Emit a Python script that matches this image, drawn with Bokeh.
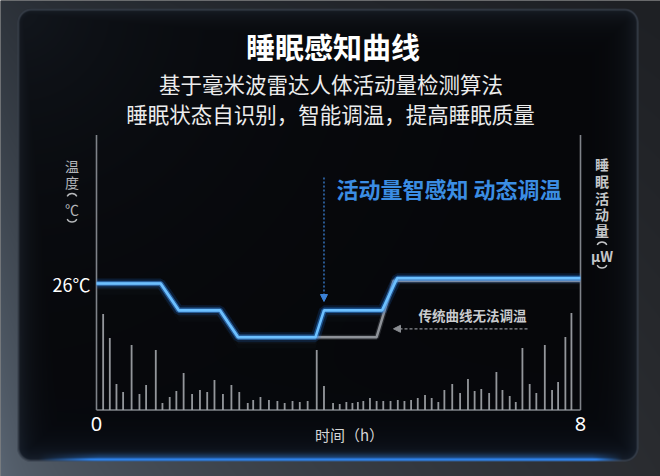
import numpy as np
from bokeh.plotting import figure
from bokeh.models import Range1d, Label, Arrow, NormalHead
from bokeh.embed import file_html
from bokeh.resources import INLINE

# sleep activity bars: time (h) and relative activity
bar_hours = [0.11, 0.22, 0.33, 0.44, 0.58, 0.71, 0.82, 0.98, 1.09, 1.21,
             1.32, 1.44, 1.58, 1.71, 1.83, 1.95, 2.09, 2.23, 2.36, 2.50,
             2.59, 2.71, 2.85, 2.99, 3.11, 3.24, 3.36, 3.49, 3.64, 3.76,
             3.91, 4.02, 4.13, 4.23, 4.32, 4.41, 4.52, 4.63, 4.74, 4.86,
             4.98, 5.09, 5.20, 5.31, 5.43, 5.54, 5.65, 5.75, 5.88, 6.01,
             6.14, 6.25, 6.36, 6.49, 6.61, 6.71, 6.83, 6.93, 7.04, 7.16,
             7.27, 7.41, 7.53, 7.63, 7.75, 7.85]
bar_activity = [96, 72, 26, 18, 65, 16, 25, 60, 7, 13,
                19, 37, 16, 20, 18, 30, 16, 25, 18, 7,
                10, 13, 10, 9, 7, 9, 8, 9, 60, 24,
                7, 6, 8, 7, 8, 9, 12, 9, 9, 9,
                10, 9, 10, 12, 15, 12, 8, 20, 26, 17,
                31, 19, 21, 17, 38, 20, 14, 8, 62, 26,
                17, 65, 20, 28, 73, 97]

# smart curve (follows activity)
smart_hours = [0, 1.06, 1.36, 2.04, 2.34, 3.62, 3.76, 4.72, 4.97, 8]
smart_temp = [26, 26, 25, 25, 24, 24, 25, 25, 26.2, 26.2]

# traditional curve
trad_hours = [0, 1.06, 1.36, 2.04, 2.34, 4.63, 4.91, 8]
trad_temp = [26, 26, 25, 25, 24, 24, 26.1, 26.1]

x_ticks = [0, 8]
x_tick_labels = ["0", "8"]
temp_tick = 26
temp_tick_label = "26℃"

CJK = "Noto Sans CJK SC"

# figure geometry (picture pixels -> data)
W, H = 660, 476
PX_H = 60.5     # px per hour
PX_T = 26.85    # px per degree
X_START = -96 / PX_H
X_END = X_START + W / PX_H
Y_END = 26 + 283 / PX_T
Y_START = Y_END - H / PX_T
ACT_START = -(H - 409.5)
ACT_END = ACT_START + H


def hx(X):
    return X_START + X / PX_H


def ty(Y):
    return Y_END - Y / PX_T


def background():
    yy, xx = np.mgrid[0:H, 0:W].astype(float)
    X = xx + 0.5
    Y = yy + 0.5
    fy = (Y / 476)[..., None]
    fx = np.sqrt(np.clip(X / 660, 0, 1))[..., None]
    lt, lb = np.array([46, 52, 60]), np.array([92, 104, 118])
    rt, rb = np.array([30, 32, 36]), np.array([42, 44, 48])
    left = lt + (lb - lt) * fy
    right = rt + (rb - rt) * fy
    outside = left + (right - left) * fx

    x0, x1, y0, y1, r = 17, 638, 8.3, 461, 14
    cx, cy = (x0 + x1) / 2, (y0 + y1) / 2
    dx = np.abs(X - cx) - ((x1 - x0) / 2 - r)
    dy = np.abs(Y - cy) - ((y1 - y0) / 2 - r)
    d = np.hypot(np.maximum(dx, 0), np.maximum(dy, 0)) + np.minimum(np.maximum(dx, dy), 0) - r

    base = np.array([6, 7, 10])
    edge = np.array([24, 30, 38])
    corner = np.exp(-np.hypot(X - 17, Y - 8) / 160)
    w = np.maximum(np.exp(d / 14), 0.7 * corner)[..., None]
    inner = base + (edge - base) * w
    inner = inner + np.array([0, 3, 8]) * np.exp((Y - 461) / 35)[..., None]
    border = np.exp(-((d + 0.8) / 0.9) ** 2)[..., None]
    inner = inner + (np.array([70, 78, 90]) - inner) * border * 0.8

    fade = np.clip((X - 38) / 60, 0, 1) * np.clip((622 - X) / 30, 0, 1)
    glow = np.exp(-((Y - 459) / 1.3) ** 2) * fade + 0.35 * np.exp(-((Y - 457) / 4) ** 2) * fade
    inner = inner + (np.array([45, 130, 235]) - inner) * np.clip(glow, 0, 1)[..., None]

    a = np.clip(0.5 - d, 0, 1)[..., None]
    rgb = outside * (1 - a) + inner * a
    rgba = np.dstack([np.clip(rgb, 0, 255), np.full((H, W), 255)]).astype(np.uint8)
    img = np.ascontiguousarray(rgba).view(np.uint32).reshape(H, W)
    return np.ascontiguousarray(img[::-1])


p = figure(width=W, height=H, x_range=Range1d(X_START, X_END),
           y_range=Range1d(Y_START, Y_END), output_backend="svg",
           toolbar_location=None, min_border=0, outline_line_color=None,
           x_axis_location=None, y_axis_location=None,
           background_fill_color="#07080b", border_fill_color="#07080b")
p.grid.grid_line_color = None
p.extra_y_ranges = {"act": Range1d(ACT_START, ACT_END)}

p.image_rgba(image=[background()], x=X_START, y=Y_START,
             dw=X_END - X_START, dh=Y_END - Y_START)

# axis lines
axis_top = 409.5 - 134.5
p.segment(x0=[x_ticks[0], x_ticks[1], x_ticks[0]], x1=[x_ticks[0], x_ticks[1], x_ticks[1]],
          y0=[0, 0, 0], y1=[axis_top, axis_top, 0], y_range_name="act",
          line_color="#7f8389", line_width=1.6)

# activity bars
p.vbar(x=bar_hours, top=bar_activity, bottom=0, width=0.03, y_range_name="act",
       fill_color="#a3a6ab", line_color=None, fill_alpha=0.9)

# haze under the curves
for off, al in [(0.12, 0.10), (0.25, 0.08), (0.42, 0.06)]:
    p.varea(x=smart_hours, y1=smart_temp, y2=[t - off for t in smart_temp],
            fill_color="#3a4048", fill_alpha=al)

# traditional curve
p.line(trad_hours, trad_temp, line_color="#8c9096", line_width=5, line_alpha=0.25)
p.line(trad_hours, trad_temp, line_color="#8e9298", line_width=2.5)

# smart curve with glow
p.line(smart_hours, smart_temp, line_color="#1a6fe0", line_width=10, line_alpha=0.18)
p.line(smart_hours, smart_temp, line_color="#2d8cf2", line_width=5.5, line_alpha=0.45)
p.line(smart_hours, smart_temp, line_color="#6cc0ff", line_width=2.6)

# arrows
p.add_layout(Arrow(end=NormalHead(size=7, fill_color="#3b82d8", line_color="#3b82d8"),
                   x_start=smart_hours[6], y_start=ty(177), x_end=smart_hours[6], y_end=ty(301),
                   line_color="#3b82d8", line_width=1.3, line_dash="2 2"))
p.add_layout(Arrow(end=NormalHead(size=7, fill_color="#8a8d92", line_color="#8a8d92"),
                   x_start=hx(527), y_start=ty(328.3), x_end=hx(393), y_end=ty(328.3),
                   line_color="#8a8d92", line_width=1.2, line_dash="3 2"))


def label(X, Y, text, size, color, bold=False, align="center", font=CJK):
    p.add_layout(Label(x=hx(X), y=ty(Y), text=text, text_align=align,
                       text_baseline="middle", text_font=font,
                       text_font_size=f"{size}px", text_color=color,
                       text_font_style="bold" if bold else "normal"))


def vparen(X, Y, color, top=True):
    # vertical-text parenthesis drawn as a short arc
    if top:
        p.arc(x=hx(X), y=ty(Y + 5), radius=5.5, radius_units="screen",
              start_angle=np.radians(28), end_angle=np.radians(152),
              line_color=color, line_width=1.3)
    else:
        p.arc(x=hx(X), y=ty(Y - 5), radius=5.5, radius_units="screen",
              start_angle=np.radians(208), end_angle=np.radians(332),
              line_color=color, line_width=1.3)


label(332.5, 45, "睡眠感知曲线", 29, "#ffffff", True)
label(330.5, 83, "基于毫米波雷达人体活动量检测算法", 21.5, "#ececec")
label(330, 113, "睡眠状态自识别，智能调温，提高睡眠质量", 21.5, "#ececec")
label(336, 187, "活动量智感知 动态调温", 22, "#3b8de3", True, align="left")
label(472, 314, "传统曲线无法调温", 13.5, "#c9cbce", True)
label(349, 434, "时间（h）", 15, "#d6d6d6")

# tick labels
for xt, lt in zip(x_ticks, x_tick_labels):
    p.add_layout(Label(x=xt, y=ty(423), text=lt, text_align="center", text_baseline="middle",
                       text_font="Noto Sans", text_font_size="20px", text_color="#ffffff"))
p.add_layout(Label(x=hx(90), y=temp_tick, text=temp_tick_label, text_align="right",
                   text_baseline="middle", text_font=CJK, text_font_size="18px",
                   text_color="#ffffff"))

# vertical axis titles (upright characters)
left_col = "#b4b6b9"
for ch, Y in zip(["温", "度", "℃"], [165, 181.5, 208]):
    label(71.5, Y, ch, 14, left_col)
vparen(71.5, 193.5, left_col, top=True)
vparen(71.5, 221, left_col, top=False)

right_col = "#c4c6c9"
for ch, Y in zip(["睡", "眠", "活", "动", "量", "μW"], [163, 180, 197, 213, 229, 255]):
    label(601.5, Y, ch, 14, right_col, bold=True)
vparen(601.5, 242, right_col, top=True)
vparen(601.5, 267, right_col, top=False)

open("out.html", "w").write(file_html(p, INLINE))
